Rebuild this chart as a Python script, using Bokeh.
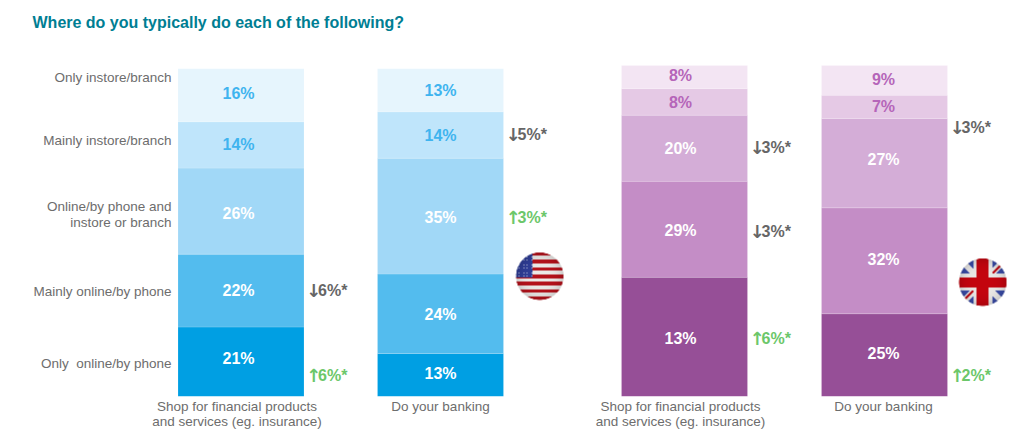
import numpy as np
from bokeh.plotting import figure
from bokeh.models import ColumnDataSource, Range1d, FixedTicker, LinearAxis, Title
from bokeh.core.properties import value
from bokeh.embed import file_html
from bokeh.resources import INLINE

FONT = "Liberation Sans"
title_text = "Where do you typically do each of the following?"
segments = ["Only\u00a0 online/by phone", "Mainly online/by phone",
            "Online/by phone and\ninstore or branch", "Mainly instore/branch", "Only instore/branch"]
segment_ticks = [10.0, 31.7, 55.0, 77.3, 96.4]
bar_names = ["Shop for financial products\nand services (eg. insurance)", "Do your banking",
             "Shop for financial products\nand services (eg. insurance)", "Do your banking"]

# bottom to top: heights
us_shop = [21, 22, 26, 14, 16]
us_bank = [13, 24, 35, 14, 13]
uk_shop = [36, 29, 20, 8, 7]
uk_bank = [25, 32, 27, 7, 9]
heights = [us_shop, us_bank, uk_shop, uk_bank]

# printed labels (the third bar's bottom label differs from its drawn height)
us_shop_labels = ["21%", "22%", "26%", "14%", "16%"]
us_bank_labels = ["13%", "24%", "35%", "14%", "13%"]
uk_shop_labels = ["13%", "29%", "20%", "8%", "8%"]
uk_bank_labels = ["25%", "32%", "27%", "7%", "9%"]
printed = [us_shop_labels, us_bank_labels, uk_shop_labels, uk_bank_labels]

blues = ["#009FE3", "#53BCEE", "#A1D8F7", "#BFE5FB", "#E6F5FD"]
purples = ["#964F97", "#C48DC6", "#D4ADD7", "#E5C9E5", "#F3E5F3"]
palettes = [blues, blues, purples, purples]
light_text = ["#3FB4EF", "#3FB4EF", "#B565B9", "#B565B9"]

centers = [240.5, 440, 684, 884]
bar_w = 126
label_dx = [-2.5, 0, -4, -1]
label_dy = [[-3, 0, 2, 0, -2], [-1, 1, 1, 0, 0], [2, 1, 0, 1, -2], [-2, -1, -4, 0, -1]]

# delta call-outs: bar, segment anchor, arrow, text, colour, pixel nudge
delta_bar = [0, 0, 1, 1, 2, 2, 2, 3, 3]
delta_seg = [1, 0, 3, 2, 2, 1, 0, 2, 0]
delta_arw = ["↓", "↑", "↓", "↑", "↓", "↓", "↑", "↓", "↑"]
delta_txt = ["6%*", "6%*", "5%*", "3%*", "3%*", "3%*", "6%*", "3%*", "2%*"]
GREY, GREEN = "#666666", "#6CC76A"
delta_col = [GREY, GREEN, GREY, GREEN, GREY, GREY, GREEN, GREY, GREEN]
delta_dy = [0, 14, -1, 1, -1, 2, 2, -36, 20]

W, H = 1019, 446
PX = 3.31  # pixels per percentage point
BASE = 396  # baseline in figure pixels
TOP = 34
LEFT = 175
p = figure(width=W, height=H, output_backend="svg", toolbar_location=None,
           x_range=Range1d(LEFT, W), y_range=Range1d(0, (BASE - TOP) / PX),
           x_axis_type=None, y_axis_type=None,
           min_border_left=LEFT, min_border_right=0, min_border_top=TOP, min_border_bottom=H - BASE)
p.grid.visible = False
p.outline_line_color = None
p.background_fill_color = "white"

for b, vals in enumerate(heights):
    v = np.array(vals, dtype=float)
    top = np.cumsum(v)
    bottom = top - v
    x = [centers[b]] * 5
    p.vbar(x=x, width=bar_w, bottom=bottom, top=top, fill_color=palettes[b],
           line_color="white", line_alpha=0.15, line_width=1)
    src = ColumnDataSource(dict(
        x=[centers[b] + label_dx[b]] * 5,
        y=(bottom + top) / 2 - np.array(label_dy[b]) / PX,
        t=printed[b],
        c=["white", "white", "white", light_text[b], light_text[b]]))
    p.text("x", "y", text="t", source=src, text_color="c", text_align="center",
           text_baseline="middle", text_font=value(FONT), text_font_style="bold",
           text_font_size="16px")

dx, dy = [], []
for b, s, n in zip(delta_bar, delta_seg, delta_dy):
    v = np.array(heights[b], dtype=float)
    dx.append(centers[b] + bar_w / 2)
    dy.append(v[:s].sum() + v[s] / 2 - n / PX)
p.text(dx, dy, text=delta_arw, text_color=delta_col, text_align="left", text_baseline="middle",
       x_offset=2, text_font=value("DejaVu Sans"), text_font_style="bold", text_font_size="18px")
p.text(dx, dy, text=delta_txt, text_color=delta_col, text_align="left", text_baseline="middle",
       x_offset=14, text_font=value(FONT), text_font_style="bold", text_font_size="16px")

# axes carry the category and bar names
yax = LinearAxis(ticker=FixedTicker(ticks=segment_ticks),
                 major_label_overrides={t: s for t, s in zip(segment_ticks, segments)})
xticks = [c + d for c, d in zip(centers, [-4, 0, -4, -1])]
xax = LinearAxis(ticker=FixedTicker(ticks=xticks),
                 major_label_overrides={t: s for t, s in zip(xticks, bar_names)})
for ax in (xax, yax):
    ax.axis_line_color = None
    ax.major_tick_line_color = None
    ax.minor_tick_line_color = None
    ax.major_tick_out = 0
    ax.major_tick_in = 0
    ax.minor_tick_out = 0
    ax.major_label_text_font = FONT
    ax.major_label_text_font_size = "13.5px"
    ax.major_label_text_color = "#6D6D6D"
    ax.major_label_text_line_height = 1.05
    ax.major_label_orientation = "horizontal"
yax.major_label_standoff = 4
xax.major_label_standoff = 2
p.add_layout(yax, "left")
p.add_layout(xax, "below")


def us_flag(n=96):
    g = (np.arange(n) + 0.5) / n * 2 - 1
    xx, yy = np.meshgrid(g, g)  # yy grows upward in the image
    stripe = np.floor((1 - yy) / 2 * 13).astype(int) % 2 == 0
    rgb = np.where(stripe[..., None], np.array([181, 18, 27]), np.array([236, 234, 232]))
    canton = (xx < -0.32) & (yy > -0.06)
    rgb = np.where(canton[..., None], np.array([47, 62, 151]), rgb)
    stars = canton & (np.mod(xx * 9, 1) < 0.22) & (np.mod(yy * 9, 1) < 0.22)
    rgb = np.where(stars[..., None], np.array([200, 205, 230]), rgb)
    return rgba(rgb, xx, yy)


def uk_flag(n=96):
    g = (np.arange(n) + 0.5) / n * 2 - 1
    xx, yy = np.meshgrid(g, g)
    rgb = np.zeros((n, n, 3)) + np.array([58, 76, 168])
    a, d = np.abs(np.abs(xx) - np.abs(yy)), 0.085
    rgb[a < 2.2 * d] = [235, 233, 231]
    same = np.sign(xx) == np.sign(yy)
    red = (a < d) & same & ((xx - np.abs(yy) * np.sign(xx)) * np.sign(xx) >= 0)
    rgb[red] = [190, 10, 20]
    rgb[(np.abs(xx) < 0.4) | (np.abs(yy) < 0.36)] = [235, 233, 231]
    rgb[(np.abs(xx) < 0.25) | (np.abs(yy) < 0.21)] = [196, 5, 15]
    return rgba(rgb, xx, yy)


def rgba(rgb, xx, yy):
    r = np.hypot(xx, yy)
    shade = 1 - 0.15 * np.clip(r, 0, 1) ** 4
    alpha = np.clip((1 - r) * 48, 0, 1)
    img = np.zeros(r.shape, dtype=np.uint32)
    view = img.view(dtype=np.uint8).reshape(r.shape + (4,))
    view[..., :3] = (rgb * shade[..., None]).astype(np.uint8)
    view[..., 3] = (alpha * 255).astype(np.uint8)
    return img


for img, cx, cy in ((us_flag(), 539, 276), (uk_flag(), 982, 282)):
    p.image_rgba(image=[img], x=cx - 24, y=(BASE - cy - 24) / PX, dw=48, dh=48 / PX)

p.add_layout(Title(text=title_text, align="left", offset=32 - LEFT, standoff=8,
                   text_font=FONT, text_font_style="bold", text_font_size="16px",
                   text_color="#007E93"), "above")

open("out.html", "w").write(file_html(p, INLINE))
